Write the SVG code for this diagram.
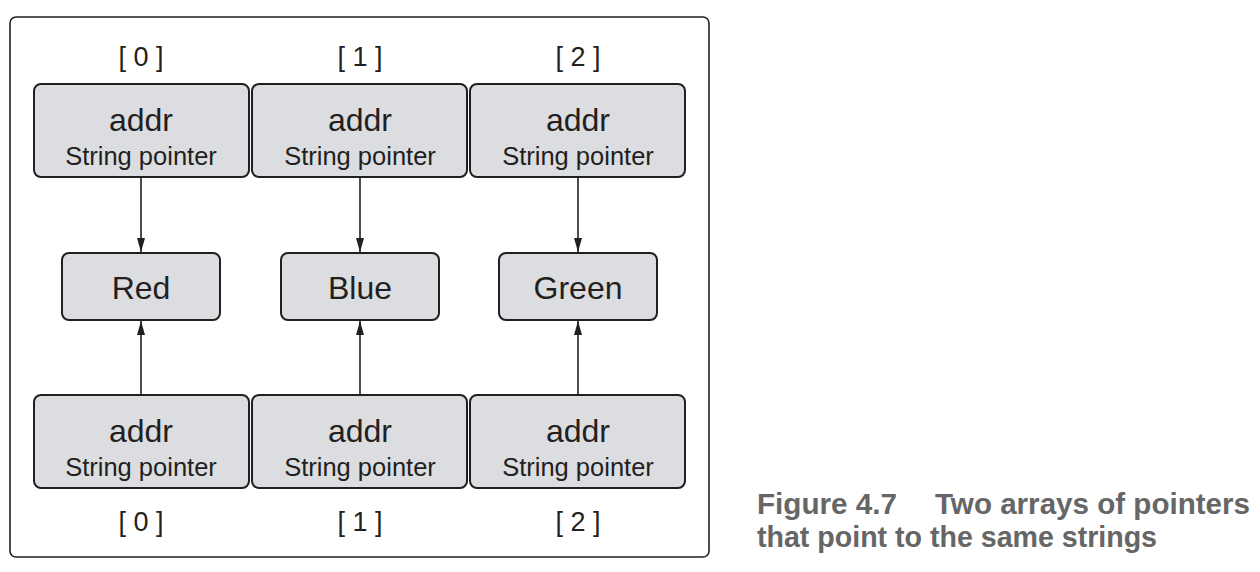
<svg xmlns="http://www.w3.org/2000/svg" width="1260" height="572" viewBox="0 0 1260 572">
<style>
.frame{fill:#fff;stroke:#231f20;stroke-width:1.6}
.box{fill:#dcdde0;stroke:#231f20;stroke-width:2}
.t{font-family:"Liberation Sans",Arial,sans-serif;fill:#231f20;text-anchor:middle}
.big{font-size:32px}
.small{font-size:25.5px}
.idx{font-size:27px}
.line{stroke:#231f20;stroke-width:1.6;fill:none}
.cap{font-family:"Liberation Sans",Arial,sans-serif;font-weight:bold;font-size:30px;fill:#666}
</style>
<defs>
<marker id="ah" viewBox="0 0 14 10" refX="14" refY="5" markerWidth="14" markerHeight="10" markerUnits="userSpaceOnUse" orient="auto">
<path d="M0,1 L14,5 L0,9 Z" fill="#231f20"/>
</marker>
</defs>
<rect class="frame" x="10" y="17" width="699" height="540" rx="6"/>
<g id="labels-top">
<text class="t idx" x="141" y="66">[ 0 ]</text>
<text class="t idx" x="360" y="66">[ 1 ]</text>
<text class="t idx" x="578" y="66">[ 2 ]</text>
</g>
<g id="labels-bottom">
<text class="t idx" x="141" y="531">[ 0 ]</text>
<text class="t idx" x="360" y="531">[ 1 ]</text>
<text class="t idx" x="578" y="531">[ 2 ]</text>
</g>
<g id="connectors">
<line class="line" x1="141" y1="178" x2="141" y2="252" marker-end="url(#ah)"/>
<line class="line" x1="360" y1="178" x2="360" y2="252" marker-end="url(#ah)"/>
<line class="line" x1="578" y1="178" x2="578" y2="252" marker-end="url(#ah)"/>
<line class="line" x1="141" y1="395" x2="141" y2="321" marker-end="url(#ah)"/>
<line class="line" x1="360" y1="395" x2="360" y2="321" marker-end="url(#ah)"/>
<line class="line" x1="578" y1="395" x2="578" y2="321" marker-end="url(#ah)"/>
</g>
<g id="top0"><rect class="box" x="34" y="84" width="215" height="93" rx="7"/><text class="t big" x="141" y="131">addr</text><text class="t small" x="141" y="165">String pointer</text></g>
<g id="top1"><rect class="box" x="252" y="84" width="215" height="93" rx="7"/><text class="t big" x="360" y="131">addr</text><text class="t small" x="360" y="165">String pointer</text></g>
<g id="top2"><rect class="box" x="470" y="84" width="215" height="93" rx="7"/><text class="t big" x="578" y="131">addr</text><text class="t small" x="578" y="165">String pointer</text></g>
<g id="red"><rect class="box" x="62" y="253" width="158" height="67" rx="7"/><text class="t big" x="141" y="299">Red</text></g>
<g id="blue"><rect class="box" x="281" y="253" width="158" height="67" rx="7"/><text class="t big" x="360" y="299">Blue</text></g>
<g id="green"><rect class="box" x="499" y="253" width="158" height="67" rx="7"/><text class="t big" x="578" y="299">Green</text></g>
<g id="bot0"><rect class="box" x="34" y="395" width="215" height="93" rx="7"/><text class="t big" x="141" y="442">addr</text><text class="t small" x="141" y="476">String pointer</text></g>
<g id="bot1"><rect class="box" x="252" y="395" width="215" height="93" rx="7"/><text class="t big" x="360" y="442">addr</text><text class="t small" x="360" y="476">String pointer</text></g>
<g id="bot2"><rect class="box" x="470" y="395" width="215" height="93" rx="7"/><text class="t big" x="578" y="442">addr</text><text class="t small" x="578" y="476">String pointer</text></g>
<g id="caption">
<text class="cap" y="514"><tspan x="757" textLength="140" lengthAdjust="spacingAndGlyphs">Figure 4.7</tspan><tspan x="935" textLength="315" lengthAdjust="spacingAndGlyphs">Two arrays of pointers</tspan></text>
<text class="cap" x="757" y="547" textLength="400" lengthAdjust="spacingAndGlyphs">that point to the same strings</text>
</g>
</svg>
